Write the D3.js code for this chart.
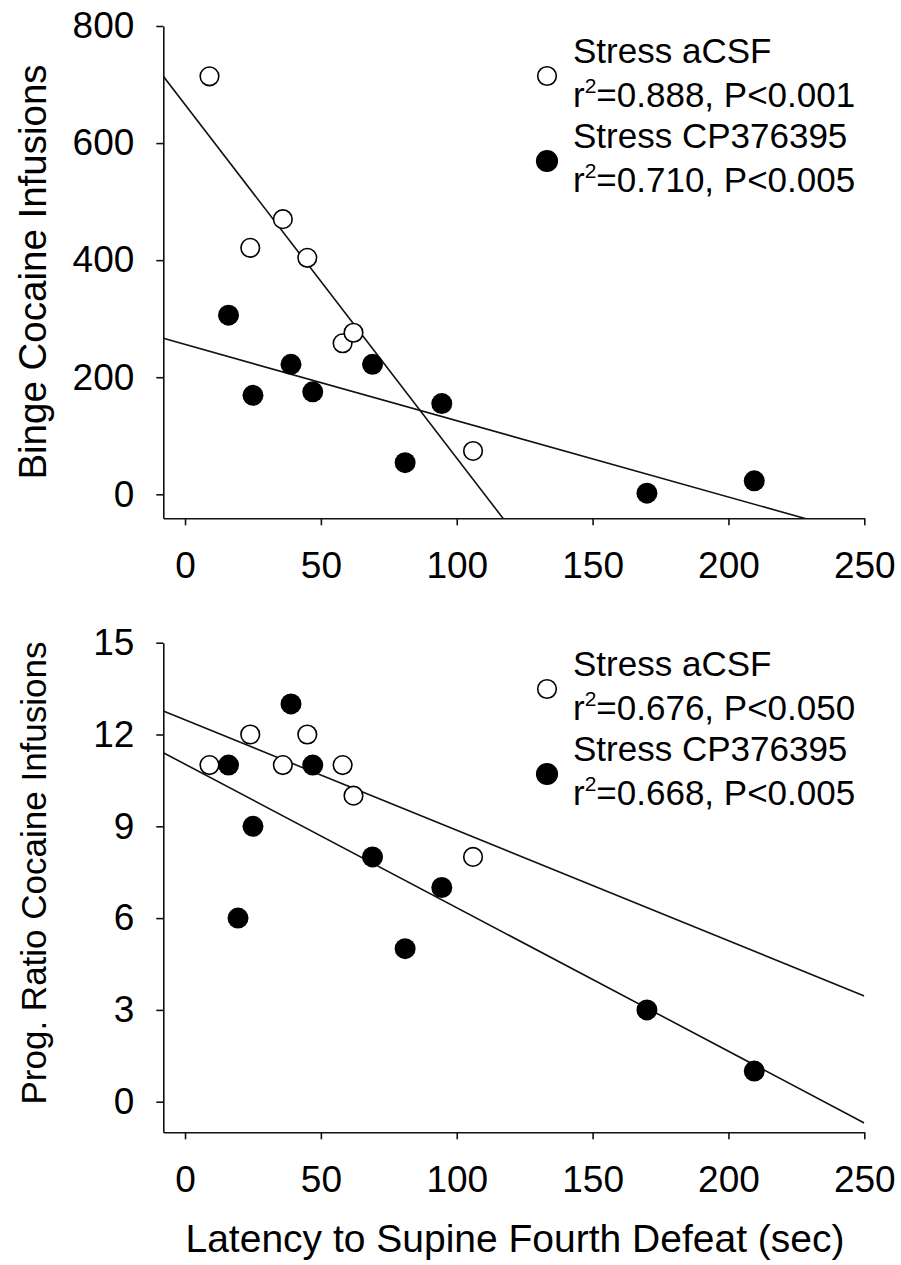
<!DOCTYPE html>
<html>
<head>
<meta charset="utf-8">
<script src="https://cdn.jsdelivr.net/npm/d3@7"></script>
<style>
  body { margin: 0; background: #fff; }
  svg { display: block; font-family: "Liberation Sans", Arial, sans-serif; }
</style>
</head>
<body>
<div id="chart"></div>
<script>
// values
const xTicks = [0, 50, 100, 150, 200, 250];

// top panel: binge infusions
const bingeOpenX = [9, 24, 36, 45, 58, 62, 106];
const bingeOpenY = [714, 421, 470, 404, 258, 276, 74];
const bingeFillX = [16, 25, 39, 47, 69, 81, 94.5, 170, 209.5];
const bingeFillY = [306, 169, 222, 175, 222, 54, 155, 2, 23];
const bingeTicks = [0, 200, 400, 600, 800];
const bingeFits = [[665.8, -6.04], [256, -1.303]]; // [intercept, slope]
const bingeLegend = [["Stress aCSF", "0.888", "0.001"], ["Stress CP376395", "0.710", "0.005"]];

// bottom panel: progressive ratio
const prOpenX = [9, 24, 36, 45, 58, 62, 106];
const prOpenY = [11, 12, 11, 12, 11, 10, 8];
const prFillX = [16, 19.5, 25, 39, 47, 69, 81, 94.5, 170, 209.5];
const prFillY = [11, 6, 9, 13, 11, 8, 5, 7, 3, 1];
const prTicks = [0, 3, 6, 9, 12, 15];
const prFits = [[12.48, -0.0361], [11.03, -0.0469]];
const prLegend = [["Stress aCSF", "0.676", "0.050"], ["Stress CP376395", "0.668", "0.005"]];

const W = 901, H = 1265;
const svg = d3.select("#chart").append("svg")
  .attr("width", W).attr("height", H)
  .attr("viewBox", [0, 0, W, H]);

const x = d3.scaleLinear().domain([-8, 250]).range([163.3, 864.3]);

const drawPanel = (cfg) => {
  const y = d3.scaleLinear().domain(cfg.yDomain).range([cfg.bottom, cfg.top]);
  const g = svg.append("g");

  const xAxis = d3.axisBottom(x).tickValues(xTicks).tickSize(7).tickSizeOuter(0).tickPadding(26);
  const yAxis = d3.axisLeft(y).tickValues(cfg.ticks).tickSize(7).tickSizeOuter(0).tickPadding(22);

  g.append("g").attr("transform", `translate(0,${cfg.bottom})`).call(xAxis);
  g.append("g").attr("transform", `translate(${x.range()[0]},0)`).call(yAxis);
  g.selectAll(".domain, .tick line").attr("stroke", "#111").attr("stroke-width", 1.6);
  g.selectAll(".tick text").attr("font-size", 37).attr("fill", "#000")
    .attr("font-family", "'Liberation Sans', Arial, sans-serif");

  g.append("text")
    .attr("transform", `translate(46,${cfg.titleY}) rotate(-90)`)
    .attr("text-anchor", "middle").attr("font-size", cfg.titleSize).text(cfg.title);

  // regression lines, clipped to the plot area
  const clipId = "clip" + cfg.id;
  g.append("clipPath").attr("id", clipId).append("rect")
    .attr("x", x.range()[0]).attr("y", cfg.top)
    .attr("width", x.range()[1] - x.range()[0]).attr("height", cfg.bottom - cfg.top);
  const xd = x.domain();
  g.append("g").attr("clip-path", `url(#${clipId})`)
    .selectAll("line").data(cfg.fits).join("line")
    .attr("x1", x(xd[0])).attr("y1", d => y(d[0] + d[1] * xd[0]))
    .attr("x2", x(xd[1])).attr("y2", d => y(d[0] + d[1] * xd[1]))
    .attr("stroke", "#111").attr("stroke-width", 1.6);

  g.append("g").selectAll("circle").data(d3.zip(cfg.fillX, cfg.fillY)).join("circle")
    .attr("cx", d => x(d[0])).attr("cy", d => y(d[1])).attr("r", 10.5).attr("fill", "#000");
  g.append("g").selectAll("circle").data(d3.zip(cfg.openX, cfg.openY)).join("circle")
    .attr("cx", d => x(d[0])).attr("cy", d => y(d[1])).attr("r", 9.3)
    .attr("fill", "#fff").attr("stroke", "#000").attr("stroke-width", 1.6);

  // legend
  const lg = g.append("g").attr("transform", `translate(573,${cfg.legendTop})`);
  cfg.legend.forEach((d, i) => {
    const base = i * 85;
    lg.append("circle").attr("cx", -26).attr("cy", base + 13)
      .attr("r", i === 0 ? 9.3 : 10.3)
      .attr("fill", i === 0 ? "#fff" : "#000").attr("stroke", "#000").attr("stroke-width", 1.6);
    lg.append("text").attr("x", 0).attr("y", base).attr("font-size", 35).text(d[0]);
    const t = lg.append("text").attr("x", 0).attr("y", base + 44).attr("font-size", 35);
    t.append("tspan").text("r");
    t.append("tspan").attr("font-size", 21).attr("dy", -14).text("2");
    t.append("tspan").attr("dy", 14).text(`=${d[1]}, P<${d[2]}`);
  });
};

drawPanel({
  id: "top", top: 26, bottom: 518.3, yDomain: [-41, 800], ticks: bingeTicks,
  title: "Binge Cocaine Infusions", titleY: 272, titleSize: 38.5,
  fits: bingeFits, legend: bingeLegend, legendTop: 63,
  openX: bingeOpenX, openY: bingeOpenY, fillX: bingeFillX, fillY: bingeFillY
});

drawPanel({
  id: "bottom", top: 642.7, bottom: 1132.3, yDomain: [-1, 15], ticks: prTicks,
  title: "Prog. Ratio Cocaine Infusions", titleY: 873, titleSize: 35,
  fits: prFits, legend: prLegend, legendTop: 676,
  openX: prOpenX, openY: prOpenY, fillX: prFillX, fillY: prFillY
});

svg.append("text")
  .attr("x", 515).attr("y", 1252)
  .attr("text-anchor", "middle").attr("font-size", 39)
  .text("Latency to Supine Fourth Defeat (sec)");
</script>
</body>
</html>
